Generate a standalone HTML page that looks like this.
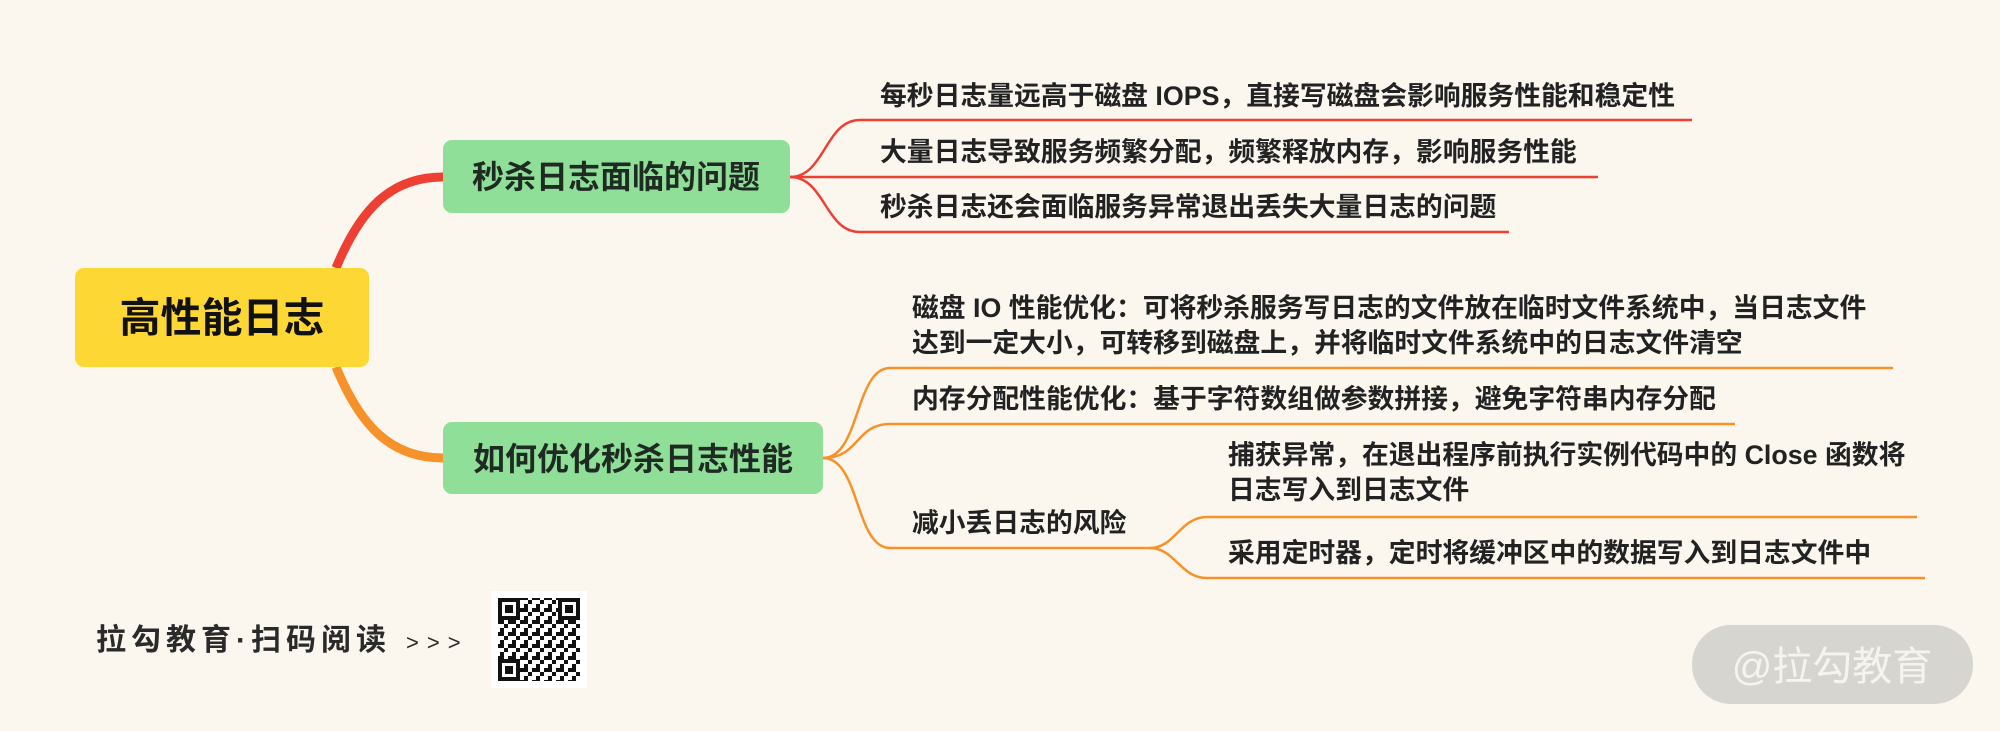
<!DOCTYPE html>
<html><head><meta charset="utf-8"><style>
html,body{margin:0;padding:0;background:#fbf7ef;}
svg{display:block}
text{font-family:"Liberation Sans","Noto Sans CJK SC",sans-serif;}
</style></head><body>
<svg width="2000" height="731" viewBox="0 0 2000 731" xmlns="http://www.w3.org/2000/svg">
<defs>
<pattern id="qr" width="12" height="12" patternUnits="userSpaceOnUse">
<rect width="12" height="12" fill="#fff"/>
<rect x="0" y="0" width="4" height="4" fill="#111"/><rect x="8" y="4" width="4" height="4" fill="#111"/>
<rect x="4" y="8" width="4" height="4" fill="#111"/><rect x="8" y="8" width="4" height="4" fill="#111"/>
</pattern>
</defs>
<rect width="2000" height="731" fill="#fbf7ef"/>
<path d="M336,268 C360,210 390,177 443,177" fill="none" stroke="#ee3f33" stroke-width="9"/>
<path d="M336,367 C360,425 390,458 443,458" fill="none" stroke="#f7922a" stroke-width="9"/>
<rect x="75" y="268" width="294" height="99" rx="9" fill="#fdd835"/>
<text x="222" y="332" font-size="41" font-weight="bold" text-anchor="middle" fill="#111">高性能日志</text>
<rect x="443" y="140" width="347" height="73" rx="9" fill="#8fdf98"/>
<text x="616" y="188" font-size="32" font-weight="bold" text-anchor="middle" fill="#1e2a22">秒杀日志面临的问题</text>
<rect x="443" y="422" width="380" height="72" rx="9" fill="#8fdf98"/>
<text x="633" y="470" font-size="32" font-weight="bold" text-anchor="middle" fill="#1e2a22">如何优化秒杀日志性能</text>
<g fill="none" stroke="#ee3f33" stroke-width="2.5">
<path d="M790,177 C825,177 825,120 860,120 L1692,120"/>
<path d="M790,177 L1598,177"/>
<path d="M790,177 C825,177 825,232 860,232 L1509,232"/>
</g>
<g font-size="26.8" font-weight="bold" fill="#222">
<text x="880" y="105">每秒日志量远高于磁盘 IOPS，直接写磁盘会影响服务性能和稳定性</text>
<text x="880" y="161">大量日志导致服务频繁分配，频繁释放内存，影响服务性能</text>
<text x="880" y="216">秒杀日志还会面临服务异常退出丢失大量日志的问题</text>
</g>
<g fill="none" stroke="#f7922a" stroke-width="2.5">
<path d="M823,458 C860,458 855,368 890,368 L1893,368"/>
<path d="M823,458 C860,458 855,424 890,424 L1735,424"/>
<path d="M823,458 C860,458 855,548 890,548 L1150,548"/>
<path d="M1150,548 C1175,548 1180,517 1207,517 L1917,517"/>
<path d="M1150,548 C1175,548 1180,578 1207,578 L1925,578"/>
</g>
<g font-size="26.8" font-weight="bold" fill="#222">
<text x="912" y="317">磁盘 IO 性能优化：可将秒杀服务写日志的文件放在临时文件系统中，当日志文件</text>
<text x="912" y="352">达到一定大小，可转移到磁盘上，并将临时文件系统中的日志文件清空</text>
<text x="912" y="408">内存分配性能优化：基于字符数组做参数拼接，避免字符串内存分配</text>
<text x="912" y="532">减小丢日志的风险</text>
<text x="1228" y="464">捕获异常，在退出程序前执行实例代码中的 Close 函数将</text>
<text x="1228" y="499">日志写入到日志文件</text>
<text x="1228" y="562">采用定时器，定时将缓冲区中的数据写入到日志文件中</text>
</g>
<text x="96" y="650" font-size="30" font-weight="bold" fill="#2a2a2a" letter-spacing="5">拉勾教育·扫码阅读</text>
<text x="406" y="650" font-size="22" fill="#2a2a2a" letter-spacing="8">&gt;&gt;&gt;</text>
<rect x="491" y="591" width="96" height="97" fill="#fff"/>
<rect x="498" y="598" width="82" height="83" fill="url(#qr)"/>
<g fill="#111">
<rect x="498" y="598" width="22" height="22"/><rect x="502" y="602" width="14" height="14" fill="#fff"/><rect x="505" y="605" width="8" height="8"/>
<rect x="558" y="598" width="22" height="22"/><rect x="562" y="602" width="14" height="14" fill="#fff"/><rect x="565" y="605" width="8" height="8"/>
<rect x="498" y="659" width="22" height="22"/><rect x="502" y="663" width="14" height="14" fill="#fff"/><rect x="505" y="666" width="8" height="8"/>
</g>
<rect x="1692" y="625" width="281" height="79" rx="39" fill="#d7d5cf"/>
<text x="1832" y="680" font-size="40" text-anchor="middle" fill="#f6f4ef">@拉勾教育</text>
</svg>
</body></html>
